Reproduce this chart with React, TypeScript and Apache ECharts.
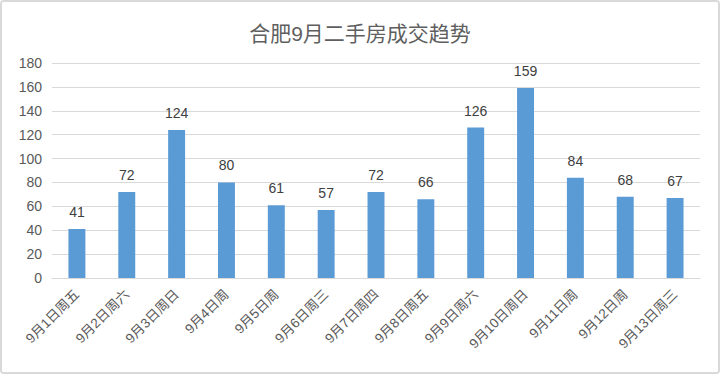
import React, { useEffect, useRef } from "react";
import * as echarts from "echarts";

const title = "合肥9月二手房成交趋势";
const categories = [
  "9月1日周五", "9月2日周六", "9月3日周日", "9月4日周", "9月5日周", "9月6日周三",
  "9月7日周四", "9月8日周五", "9月9日周六", "9月10日周日", "9月11日周", "9月12日周", "9月13日周三",
];
const values = [41, 72, 124, 80, 61, 57, 72, 66, 126, 159, 84, 68, 67];
const yMin = 0;
const yMax = 180;
const yStep = 20;

export default function App() {
  const ref = useRef<HTMLDivElement>(null);
  useEffect(() => {
    if (!ref.current) return;
    const chart = echarts.init(ref.current, undefined, { renderer: "svg" });
    const font = "'Liberation Sans', 'Noto Sans CJK SC', sans-serif";
    chart.setOption({
      animation: false,
      backgroundColor: "#ffffff",
      title: {
        text: title,
        left: "center",
        top: 18,
        textStyle: { fontSize: 21, fontWeight: "normal", color: "#5f5f5f", fontFamily: font },
      },
      grid: { left: 52, right: 20, top: 63, bottom: 96 },
      xAxis: {
        type: "category",
        data: categories,
        axisLine: { lineStyle: { color: "#d9d9d9" } },
        axisTick: { show: false },
        axisLabel: {
          rotate: 45,
          interval: 0,
          color: "#595959",
          fontSize: 13.5,
          fontFamily: font,
          margin: 14,
        },
      },
      yAxis: {
        type: "value",
        min: yMin,
        max: yMax,
        interval: yStep,
        axisLine: { show: false },
        axisTick: { show: false },
        splitLine: { lineStyle: { color: "#d9d9d9" } },
        axisLabel: { color: "#595959", fontSize: 14, fontFamily: font, margin: 10 },
      },
      series: [
        {
          type: "bar",
          data: values,
          barWidth: "34%",
          itemStyle: { color: "#5B9BD5" },
          label: {
            show: true,
            position: "top",
            distance: 10,
            color: "#404040",
            fontSize: 14,
            fontFamily: font,
          },
        },
      ],
    });
    return () => chart.dispose();
  }, []);
  return (
    <div
      style={{
        position: "fixed",
        left: 0,
        top: 0,
        width: 720,
        height: 374,
        boxSizing: "border-box",
        border: "2px solid #d9d9d9",
        borderRadius: 4,
        background: "#fff",
        overflow: "hidden",
      }}
    >
      <div ref={ref} style={{ position: "absolute", left: -2, top: -2, width: 720, height: 374 }} />
    </div>
  );
}
